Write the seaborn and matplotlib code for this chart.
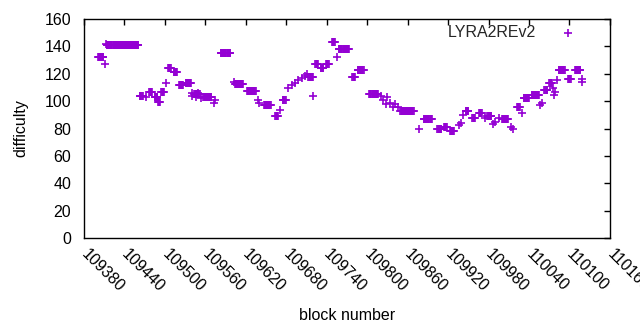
import numpy as np
import pandas as pd
import seaborn as sns
from matplotlib import pyplot as plt
from matplotlib import transforms

# runs of blocks that share one difficulty value
run_start = [109401, 109414, 109463, 109477, 109485, 109490, 109495, 109505, 109513,
             109521, 109531, 109544, 109557, 109583, 109604, 109622, 109647, 109664,
             109675, 109713, 109723, 109731, 109739, 109748, 109758, 109778, 109786,
             109803, 109849, 109884, 109904, 109914, 109923, 109946, 109956, 109966,
             109978, 110000, 110022, 110032, 110044, 110063, 110070, 110084, 110098,
             110108]
run_end = [109409, 109461, 109467, 109481, 109489, 109493, 109499, 109509, 109518,
           109527, 109539, 109552, 109569, 109597, 109616, 109635, 109657, 109668,
           109679, 109720, 109727, 109735, 109743, 109752, 109773, 109782, 109795,
           109816, 109869, 109896, 109910, 109918, 109929, 109950, 109960, 109970,
           109984, 110009, 110026, 110040, 110055, 110067, 110074, 110093, 110102,
           110116]
run_diff = [132, 141, 104, 107, 103, 99.5, 107, 124.5, 121,
            112, 113, 105, 103, 135, 112.5, 107.5, 97, 89.5,
            101, 117.5, 127.5, 124, 127.5, 143, 138.5, 118, 122.5,
            105.5, 93, 87, 79.5, 81, 78.5, 92.5, 88, 91.5,
            89.5, 87, 96, 102, 104.5, 108, 113, 122.5, 116.5,
            122.5]

# single blocks
point_block = [109411, 109413, 109472, 109502, 109540, 109541, 109546, 109549, 109553,
               109573, 109575, 109603, 109638, 109640, 109671, 109683, 109688, 109693,
               109698, 109703, 109708, 109711, 109720, 109755, 109820, 109824, 109828,
               109830, 109834, 109838, 109842, 109846, 109877, 109936, 109939, 109942,
               109975, 109987, 109990, 109995, 110014, 110016, 110029, 110057, 110059,
               110076, 110077, 110079, 110081, 110118, 110119]
point_diff = [127, 142, 103, 113, 103.5, 106, 103, 106, 102,
              99, 101, 114, 101, 99, 93.5, 109.5, 112, 113.5,
              115.5, 117, 118.5, 120, 103.5, 132.5, 104, 101, 98,
              103, 99, 96, 98, 95.5, 80, 82.5, 84, 90,
              87.5, 83, 85, 88, 81, 79.5, 91.5, 97.5, 98.5,
              109.5, 104.5, 107, 115.5, 114, 116]

blocks = np.concatenate([np.arange(s, e + 1) for s, e in zip(run_start, run_end)] + [point_block])
diffs = np.concatenate([np.full(e - s + 1, v) for s, e, v in zip(run_start, run_end, run_diff)] + [point_diff])
df = pd.DataFrame({"block": blocks, "difficulty": diffs}).sort_values("block")

sns.set_theme(style="white")
plt.rcParams["font.family"] = ["Liberation Sans", "DejaVu Sans"]

fig, ax = plt.subplots(figsize=(6.4, 3.3), dpi=100)
fig.subplots_adjust(left=0.131, right=0.953, top=0.942, bottom=0.279)
sns.scatterplot(data=df, x="block", y="difficulty", marker="+", color="#9400d3",
                s=34, linewidth=1.2, ax=ax, label="LYRA2REv2")

ax.set_xlim(109380, 110160)
ax.set_ylim(0, 160)
ax.set_xticks(range(109380, 110161, 60))
ax.set_yticks(range(0, 161, 20))
ax.tick_params(direction="in", length=4, width=1, top=True, right=True,
               labelsize=11.5, colors="black")
ax.tick_params(axis="x", pad=7)
ax.tick_params(axis="y", pad=9)
shift = transforms.ScaledTranslation(5 / 100, 1 / 100, fig.dpi_scale_trans)
for lab in ax.get_xticklabels():
    lab.set_rotation(-45)
    lab.set_ha("left")
    lab.set_va("top")
    lab.set_rotation_mode("anchor")
    lab.set_transform(lab.get_transform() + shift)
for sp in ax.spines.values():
    sp.set_color("black")
    sp.set_linewidth(1)

ax.set_xlabel("block number", fontsize=11.5, color="black", labelpad=9)
ax.set_ylabel("difficulty", fontsize=11.5, color="black", labelpad=12)
ax.legend(loc="upper right", frameon=False, markerfirst=False, fontsize=11.5,
          handletextpad=1.3, borderaxespad=0.2, handlelength=1.5,
          bbox_to_anchor=(0.962, 1.015))

plt.savefig("out.png", dpi=100)
